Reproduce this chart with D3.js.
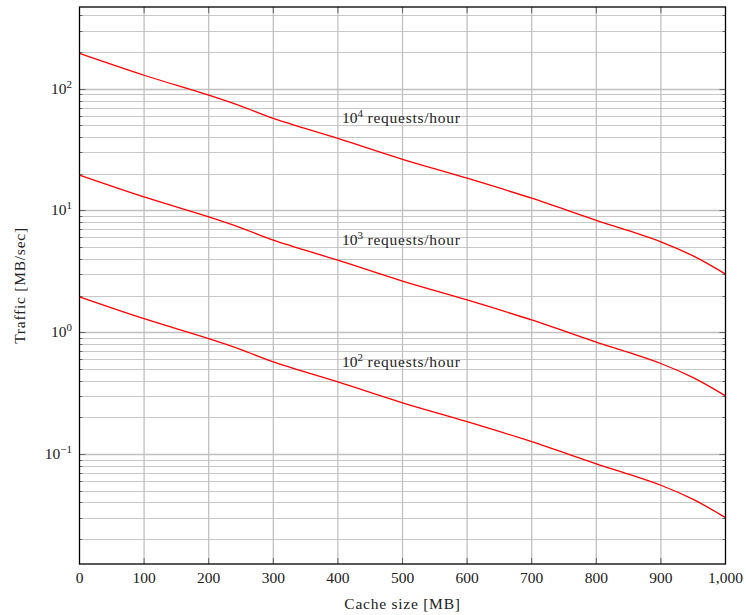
<!DOCTYPE html>
<html>
<head>
<meta charset="utf-8">
<script src="https://cdn.jsdelivr.net/npm/d3@7"></script>
<style>
  body { margin: 0; background: #fff; }
  text { font-family: "Liberation Serif", "DejaVu Serif", serif; fill: #222; }
  .words { letter-spacing: 0.75px; }
</style>
</head>
<body>
<script>
// dados
var cacheSize = [0, 100, 200, 250, 300, 400, 500, 600, 700, 800, 850, 900, 950, 1000];
var traffic4 = [195, 129, 88.5, 72, 57, 39, 26.3, 18.4, 12.6, 8.3, 6.82, 5.53, 4.23, 3.0];
var traffic3 = [19.5, 12.9, 8.85, 7.2, 5.7, 3.9, 2.63, 1.84, 1.26, 0.83, 0.682, 0.553, 0.423, 0.30];
var traffic2 = [1.95, 1.29, 0.885, 0.72, 0.57, 0.39, 0.263, 0.184, 0.126, 0.083, 0.0682, 0.0553, 0.0423, 0.030];
var seriesExp = [4, 3, 2];
var labelAt = [400, 400, 400];
var labelVal = [55, 5.5, 0.55];
var xTicks = [0, 100, 200, 300, 400, 500, 600, 700, 800, 900, 1000];
var yDecades = [-1, 0, 1, 2];

var W = 746, H = 615;
var pLeft = 79.5, pRight = 725.5, pTop = 7, pBottom = 564;

var svg = d3.select("body").append("svg").attr("width", W).attr("height", H);

var x = d3.scaleLinear().domain([0, 1000]).range([pLeft, pRight]);
var y = d3.scaleLog().domain([0.01247, 469]).range([pBottom, pTop]);

// grade menor (2..9 em cada decada)
var minor = [];
[-2, -1, 0, 1, 2].forEach(function (e) {
  for (var k = 2; k <= 9; k++) {
    var v = k * Math.pow(10, e);
    if (v > y.domain()[0] && v < y.domain()[1]) minor.push(v);
  }
});
var major = yDecades.map(function (e) { return Math.pow(10, e); });

var grid = svg.append("g");
grid.selectAll(".ymin").data(minor).enter().append("line")
  .attr("x1", pLeft).attr("x2", pRight)
  .attr("y1", function (d) { return Math.round(y(d)) + 0.5; })
  .attr("y2", function (d) { return Math.round(y(d)) + 0.5; })
  .attr("stroke", "#c8c8c8").attr("stroke-width", 1);
grid.selectAll(".ymaj").data(major).enter().append("line")
  .attr("x1", pLeft).attr("x2", pRight)
  .attr("y1", function (d) { return Math.round(y(d)) + 0.5; })
  .attr("y2", function (d) { return Math.round(y(d)) + 0.5; })
  .attr("stroke", "#c0c0c0").attr("stroke-width", 1.3);
grid.selectAll(".xg").data(xTicks.slice(1, -1)).enter().append("line")
  .attr("y1", pTop).attr("y2", pBottom)
  .attr("x1", function (d) { return x(d); })
  .attr("x2", function (d) { return x(d); })
  .attr("stroke", "#c0c0c0").attr("stroke-width", 1.3);

// ticks internos
var ticks = svg.append("g").attr("stroke", "#666").attr("stroke-width", 1);
minor.forEach(function (v) {
  var yy = Math.round(y(v)) + 0.5;
  ticks.append("line").attr("x1", pLeft).attr("x2", pLeft + 3).attr("y1", yy).attr("y2", yy);
  ticks.append("line").attr("x1", pRight - 3).attr("x2", pRight).attr("y1", yy).attr("y2", yy);
});
major.forEach(function (v) {
  var yy = Math.round(y(v)) + 0.5;
  ticks.append("line").attr("x1", pLeft).attr("x2", pLeft + 6).attr("y1", yy).attr("y2", yy);
  ticks.append("line").attr("x1", pRight - 6).attr("x2", pRight).attr("y1", yy).attr("y2", yy);
});
xTicks.forEach(function (v) {
  ticks.append("line").attr("x1", x(v)).attr("x2", x(v)).attr("y1", pBottom).attr("y2", pBottom - 6);
  ticks.append("line").attr("x1", x(v)).attr("x2", x(v)).attr("y1", pTop).attr("y2", pTop + 6);
});

// curvas
var line = d3.line()
  .x(function (d) { return x(d[0]); })
  .y(function (d) { return y(d[1]); })
  .curve(d3.curveCatmullRom.alpha(0.5));

[traffic4, traffic3, traffic2].forEach(function (s) {
  svg.append("path")
    .datum(d3.zip(cacheSize, s))
    .attr("d", line)
    .attr("fill", "none")
    .attr("stroke", "#ff0000")
    .attr("stroke-width", 1.3);
});

// moldura
svg.append("rect").attr("x", pLeft).attr("y", pTop)
  .attr("width", pRight - pLeft).attr("height", pBottom - pTop)
  .attr("fill", "none").attr("stroke", "#000").attr("stroke-width", 1.3);

// rotulos do eixo x
svg.selectAll(".xl").data(xTicks).enter().append("text")
  .attr("x", function (d) { return x(d); })
  .attr("y", 583)
  .attr("text-anchor", "middle")
  .attr("font-size", 15.5)
  .text(function (d) { return d3.format(",")(d); });

// rotulos do eixo y
var yl = svg.selectAll(".yl").data(yDecades).enter().append("text")
  .attr("x", 72)
  .attr("y", function (d) { return y(Math.pow(10, d)) + 5; })
  .attr("text-anchor", "end")
  .attr("font-size", 15.5);
yl.append("tspan").text("10");
yl.append("tspan").attr("dy", -6).attr("font-size", 11)
  .text(function (d) { return d < 0 ? "\u2212" + (-d) : d; });

// textos das curvas
seriesExp.forEach(function (e, i) {
  var t = svg.append("text")
    .attr("x", x(labelAt[i]) + 4)
    .attr("y", y(labelVal[i]) + 3)
    .attr("font-size", 15.5);
  t.append("tspan").text("10");
  t.append("tspan").attr("dy", -6).attr("font-size", 11).text(e);
  t.append("tspan").attr("dy", 6).attr("class", "words").text(" requests/hour");
});

// titulos dos eixos
svg.append("text")
  .attr("class", "words")
  .attr("x", (pLeft + pRight) / 2).attr("y", 609)
  .attr("text-anchor", "middle").attr("font-size", 15.5)
  .text("Cache size [MB]");
svg.append("text")
  .attr("class", "words")
  .attr("transform", "translate(25," + ((pTop + pBottom) / 2) + ") rotate(-90)")
  .attr("text-anchor", "middle").attr("font-size", 15.5)
  .text("Traffic [MB/sec]");
</script>
</body>
</html>
